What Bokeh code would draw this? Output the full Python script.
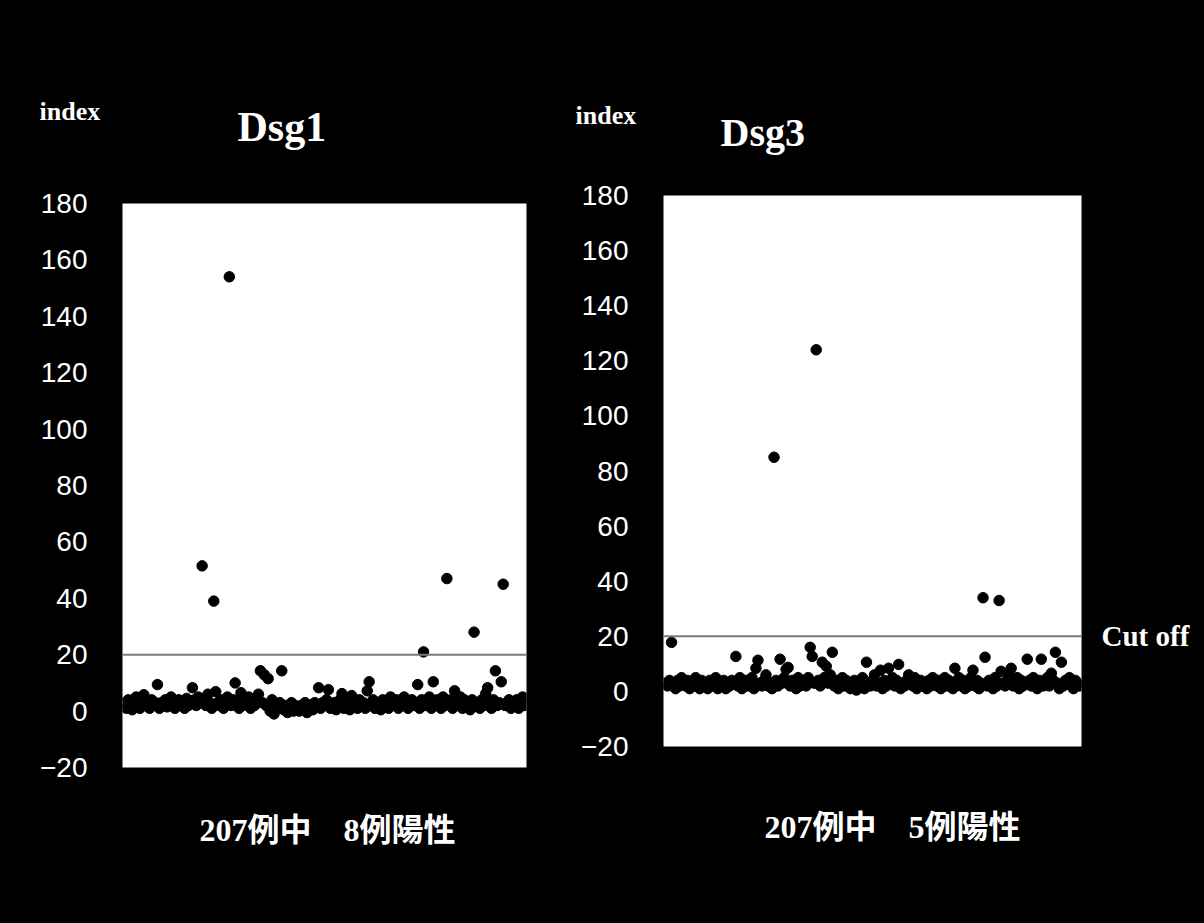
from bokeh.plotting import figure
from bokeh.layouts import row, column
from bokeh.models import Span, Title, FixedTicker, LinearAxis
from bokeh.embed import file_html
from bokeh.resources import INLINE

# ---------------- data ----------------
y_ticks = [-20, 0, 20, 40, 60, 80, 100, 120, 140, 160, 180]
cutoff = 20

dsg1_values = [
    3, 1, 4, 2, 0.5, 3, 5, 2, 1, 4,
    5.8, 2, 3, 1, 4, 2.5, 3, 9.4, 1, 3,
    2, 4, 1.5, 3, 5, 2, 1, 3.5, 4, 2,
    3, 1, 4.5, 2, 3, 8.3, 4, 2, 5, 3,
    51.5, 4, 2, 6, 3, 1, 39, 6.9, 3, 2,
    4, 1, 3, 5, 154, 2, 4, 10, 3, 1,
    6.5, 2, 4, 3, 5, 1, 3, 2, 4, 6,
    14.3, 3, 12.9, 2, 11.5, 0, 4, -1, 2, 1,
    3, 14.3, 0.5, 2, -0.5, 1, 3, 0, 2, 1.5,
    0, 2, 1, 3, -0.5, 2, 1, 0.5, 3, 2,
    8.3, 1, 3, 2, 4, 7.6, 1, 2, 3, 0.5,
    2, 4, 6.2, 1, 3, 2, 0.5, 5.5, 2, 3,
    1, 4, 2, 3, 1, 7.2, 10.4, 2, 4, 1,
    3, 2, 0.5, 4, 2, 3, 1, 5, 2, 3,
    4, 1, 2, 3, 5, 2, 1, 3, 4, 2,
    3, 9.4, 1, 4, 21, 2, 3, 5, 1, 10.4,
    2, 4, 3, 1, 5, 2, 47, 3, 4, 1,
    7.2, 2, 3, 5, 1, 4, 2, 3, 0.5, 4,
    28, 2, 3, 1, 4, 2, 6.2, 8.3, 3, 1,
    4, 14.3, 2, 3, 10.4, 45, 2, 3, 4, 1,
    3, 2, 4, 1, 3, 5, 2,
]

dsg3_values = [
    3, 2, 4, 17.8, 3, 1, 4, 2, 5, 3,
    2, 4, 1, 3, 2, 5, 3, 1, 4, 2,
    3, 1, 4, 2, 3, 5, 1, 3, 2, 4,
    1, 3, 2, 4, 3, 12.7, 2, 5, 1, 3,
    4, 2, 3, 5, 1, 8.4, 11.3, 3, 2, 4,
    6, 2, 3, 1, 85, 4, 2, 11.7, 3, 5,
    8, 8.7, 2, 4, 3, 1, 5, 2, 3, 4,
    2, 5, 16, 12.7, 3, 124, 4, 2, 10.6, 5,
    9.1, 3, 6, 14.2, 2, 4, 1, 3, 5, 2,
    4, 3, 1, 2, 4, 0.5, 3, 2, 5, 1,
    10.6, 3, 2, 4, 6, 2, 3, 7.7, 1, 4,
    2, 8.4, 3, 5, 2, 4, 9.8, 1, 3, 2,
    4, 6, 3, 2, 5, 1, 3, 4, 2, 3,
    1, 4, 2, 5, 3, 2, 4, 1, 3, 5,
    2, 4, 3, 1, 8.4, 3, 5, 2, 4, 1,
    3, 2, 5, 7.7, 2, 4, 1, 3, 34, 12.4,
    2, 4, 3, 1, 5, 2, 33, 7.3, 3, 2,
    4, 6, 8.4, 2, 3, 5, 1, 4, 2, 3,
    11.7, 4, 2, 5, 3, 1, 4, 11.7, 2, 3,
    5, 2, 6.6, 4, 14.2, 3, 1, 10.6, 2, 4,
    3, 5, 2, 1, 4, 3, 2,
]

titles = ["Dsg1", "Dsg3"]
y_label = "index"
footers = ["207例中\u30008例陽性", "207例中\u30005例陽性"]
cutoff_label = "Cut off"

# ---------------- styling ----------------
TICK_FONT = "Liberation Sans"
SERIF = "Liberation Serif"
FOOT_FONT = "Liberation Serif, Noto Sans CJK JP"


def make_panel(values, fw, fh, bl, bt, br, bb):
    n = len(values)
    p = figure(
        frame_width=fw, frame_height=fh,
        x_range=(0, n + 1), y_range=(-20, 180),
        min_border_left=bl, min_border_top=bt,
        min_border_right=br, min_border_bottom=bb,
        toolbar_location=None, output_backend="svg",
        background_fill_color="white", border_fill_color="black",
    )
    p.outline_line_color = None
    p.grid.visible = False
    p.xaxis.visible = False
    ax = p.yaxis[0]
    ax.ticker = FixedTicker(ticks=y_ticks)
    ax.axis_line_color = None
    ax.major_tick_line_color = None
    ax.minor_tick_line_color = None
    ax.major_tick_out = 0
    ax.major_tick_in = 0
    ax.major_label_text_color = "white"
    ax.major_label_text_font = TICK_FONT
    ax.major_label_text_font_size = "28px"
    ax.major_label_standoff = 35
    p.add_layout(Span(location=cutoff, dimension="width",
                      line_color="#7a7a7a", line_width=2))
    xs = list(range(1, n + 1))
    p.scatter(xs, values, size=10.5, fill_color="black", line_color="black")
    return p


def add_title(p, side, text, font, size, offset, standoff, valign):
    p.add_layout(Title(text=text, align="left", offset=offset,
                       standoff=standoff, vertical_align=valign,
                       text_font=font, text_font_size=size,
                       text_font_style="bold", text_color="white"), side)


# left panel frame: page-x 123..527, page-y 204..768
p1 = make_panel(dsg1_values, 404, 564, 122, 203, 33, 147)
# right panel frame: page-x 664..1082, page-y 196..747
p2 = make_panel(dsg3_values, 418, 551, 104, 195, 114, 168)

add_title(p1, "above", titles[0], SERIF, "42px", 115, 108, "bottom")
add_title(p1, "above", y_label, SERIF, "26px", -83, -157, "bottom")
add_title(p1, "below", footers[0], FOOT_FONT, "32px", 77, 88, "top")

add_title(p2, "above", titles[1], SERIF, "40px", 57, 82, "bottom")
add_title(p2, "above", y_label, SERIF, "26px", -88, -127, "bottom")
add_title(p2, "below", footers[1], FOOT_FONT, "32px", 101, 125, "top")

# "Cut off" marker text, as a tick label of a right-hand axis at the cutoff level
cut_axis = LinearAxis(ticker=FixedTicker(ticks=[cutoff]),
                      major_label_overrides={cutoff: cutoff_label})
cut_axis.axis_line_color = None
cut_axis.major_tick_line_color = None
cut_axis.minor_tick_line_color = None
cut_axis.major_tick_out = 0
cut_axis.major_tick_in = 0
cut_axis.major_label_standoff = 20
cut_axis.major_label_text_color = "white"
cut_axis.major_label_text_font = SERIF
cut_axis.major_label_text_font_style = "bold"
cut_axis.major_label_text_font_size = "29px"
p2.add_layout(cut_axis, "right")

layout = row(p1, column(p2, spacing=0), spacing=0)

html = file_html(layout, INLINE)
html = html.replace("</head>", "<style>html,body{background:#000;}</style></head>", 1)
open("out.html", "w").write(html)
